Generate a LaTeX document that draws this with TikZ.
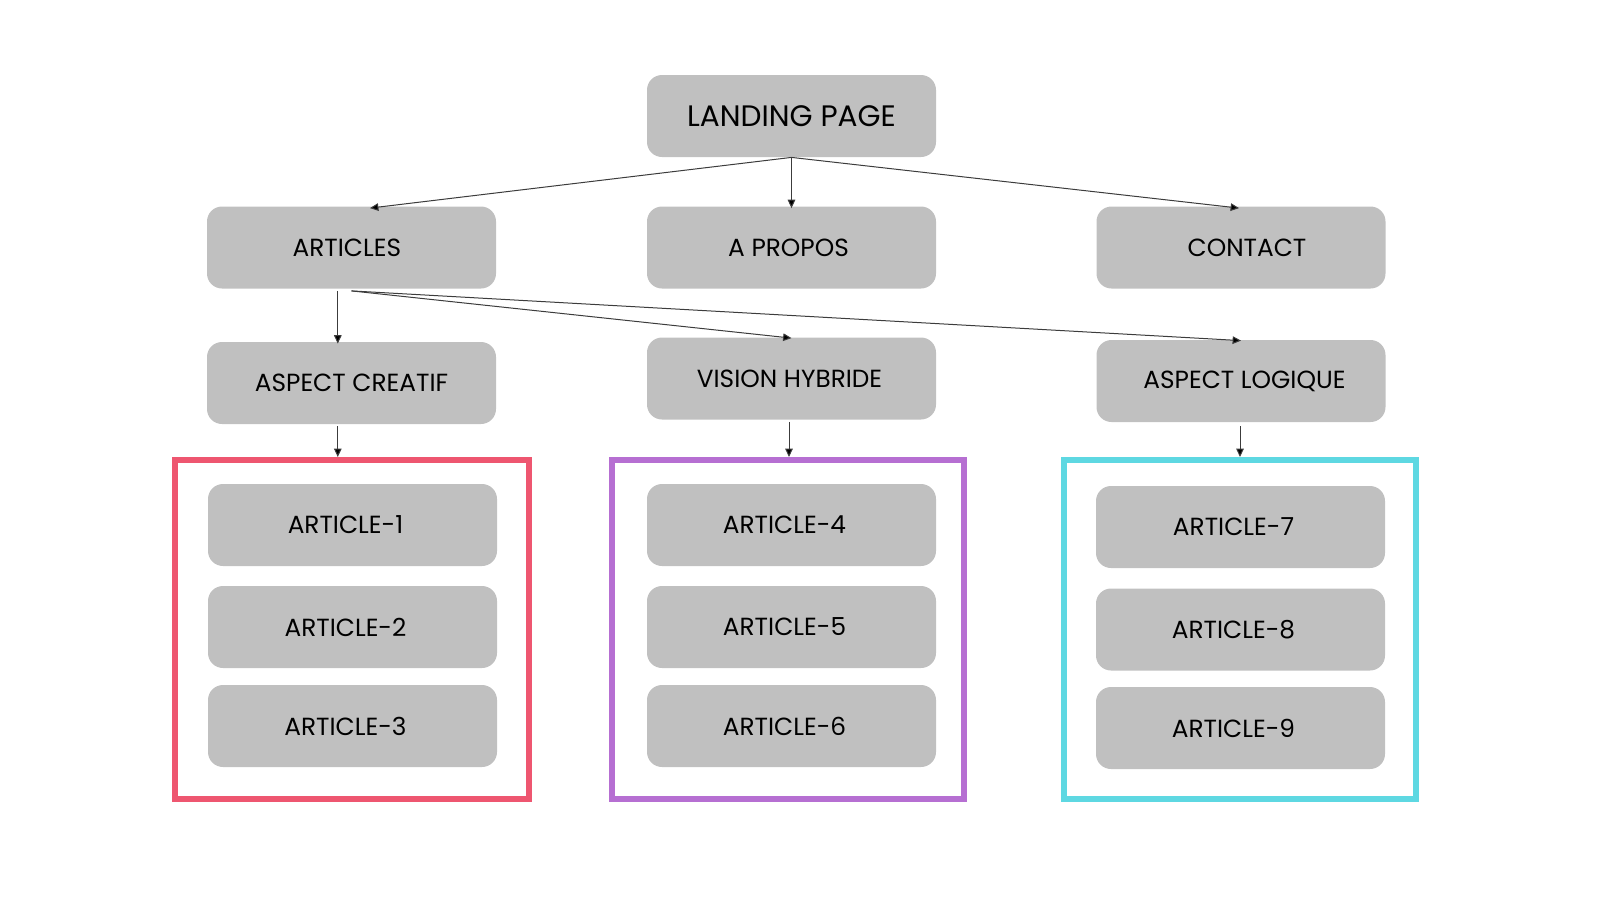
\documentclass[tikz,border=0pt]{standalone}
\usepackage{fontspec}
\setmainfont{Poppins}
\usetikzlibrary{arrows.meta}
\definecolor{boxgray}{RGB}{192,192,192}
\definecolor{framered}{RGB}{238,86,112}
\definecolor{framepurple}{RGB}{182,111,210}
\definecolor{framecyan}{RGB}{94,216,226}
\definecolor{linegray}{RGB}{60,60,60}
\tikzset{
  pagebox/.style={fill=boxgray, draw=none, rounded corners=7.5pt,
    minimum width=144.5pt, minimum height=41pt, inner sep=0pt,
    font=\fontsize{12.4}{14}\selectfont, text=black},
  bigbox/.style={pagebox, font=\fontsize{14.8}{17}\selectfont},
  txshift/.style={execute at begin node={\hspace*{#1}}},
  framebox/.style={line width=3pt},
  conn/.style={draw=linegray, line width=0.5pt, -{Triangle[length=4.2pt,width=3.8pt,fill=black]}},
}
\begin{document}
\begin{tikzpicture}[x=0.5pt,y=-0.5pt]
\useasboundingbox (0,0) rectangle (1600,900);
% frames
\draw[framebox, draw=framered] (175,460) rectangle (529,799);
\draw[framebox, draw=framepurple] (612,460) rectangle (964,799);
\draw[framebox, draw=framecyan] (1064,460) rectangle (1416,799);
% nodes
\node[bigbox] (landing) at (791.5,116) {LANDING PAGE};
\node[pagebox, txshift=-4.6pt] (articles) at (351.5,247.5) {ARTICLES};
\node[pagebox, txshift=-3pt] (apropos) at (791.5,247.5) {A PROPOS};
\node[pagebox, txshift=6pt] (contact) at (1241,247.5) {CONTACT};
\node[pagebox] (creatif) at (351.5,383) {ASPECT CREATIF};
\node[pagebox, txshift=-2pt] (vision) at (791.5,378.5) {VISION HYBRIDE};
\node[pagebox, txshift=3.5pt] (logique) at (1241,381) {ASPECT LOGIQUE};
\node[pagebox, txshift=-7pt] (a1) at (352.5,525) {ARTICLE-1};
\node[pagebox, txshift=-7pt] (a2) at (352.5,627) {ARTICLE-2};
\node[pagebox, txshift=-7pt] (a3) at (352.5,726) {ARTICLE-3};
\node[pagebox, txshift=-7pt] (a4) at (791.5,525) {ARTICLE-4};
\node[pagebox, txshift=-7pt] (a5) at (791.5,627) {ARTICLE-5};
\node[pagebox, txshift=-7pt] (a6) at (791.5,726) {ARTICLE-6};
\node[pagebox, txshift=-7pt] (a7) at (1240.5,527) {ARTICLE-7};
\node[pagebox, txshift=-7pt] (a8) at (1240.5,629.5) {ARTICLE-8};
\node[pagebox, txshift=-7pt] (a9) at (1240.5,728) {ARTICLE-9};
% frame anchor coordinates
\coordinate (redtop) at (337.8,457);
\coordinate (purpletop) at (789,457);
\coordinate (cyantop) at (1240,457);
% connectors
\draw[conn] (landing.south) -- ([xshift=9.25pt,yshift=-1pt]articles.north);
\draw[conn] (landing.south) -- ([yshift=-1pt]apropos.north);
\draw[conn] (landing.south) -- ([xshift=-1pt,yshift=-1pt]contact.north);
\draw[conn] ([xshift=-6.85pt,yshift=-1pt]articles.south) -- ([xshift=-6.85pt,yshift=-1pt]creatif.north);
\draw[conn] ([yshift=-1pt]articles.south) -- ([yshift=-0.5pt]vision.north);
\draw[conn] ([yshift=-1pt]articles.south) -- ([yshift=-0.5pt]logique.north);
\draw[conn] ([xshift=-6.85pt,yshift=-1pt]creatif.south) -- (redtop);
\draw[conn] ([xshift=-1.25pt,yshift=-1pt]vision.south) -- (purpletop);
\draw[conn] ([xshift=-0.5pt,yshift=-2pt]logique.south) -- (cyantop);
\end{tikzpicture}
\end{document}
